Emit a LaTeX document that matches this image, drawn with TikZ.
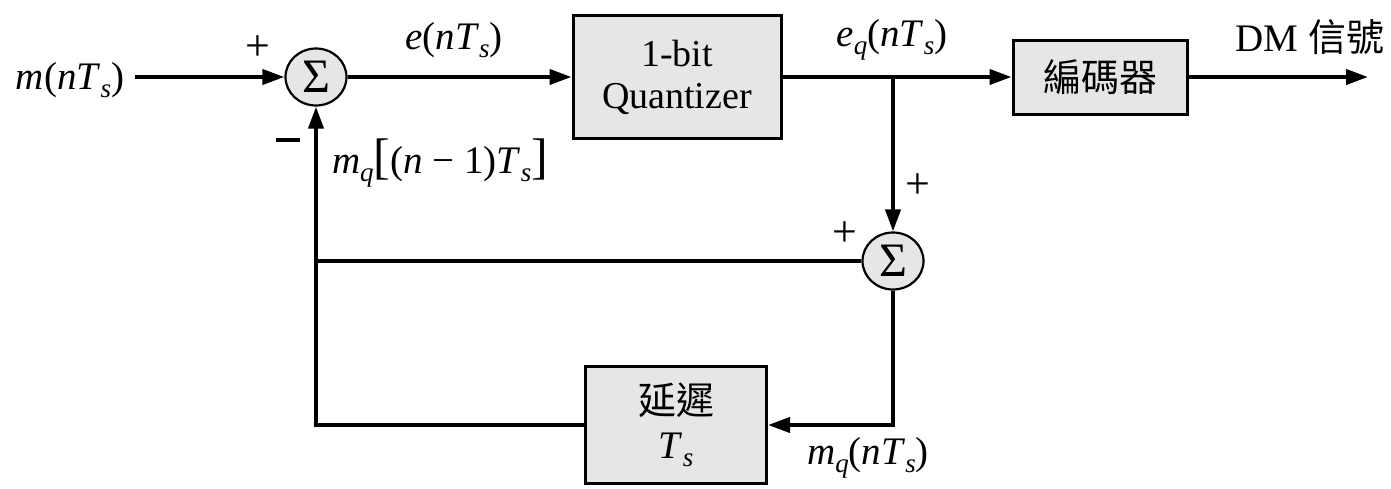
\documentclass[tikz,border=0pt]{standalone}
\usepackage{fontspec}
\setmainfont{Liberation Serif}
\newfontfamily\cjk{Noto Sans CJK TC}
\usetikzlibrary{arrows.meta,shapes.geometric}
\definecolor{boxfill}{HTML}{E6E6E8}
\newcommand\vi[1]{\textit{#1}}
\newcommand\sbs[1]{\raisebox{-8pt}{\fontsize{27}{27}\selectfont\itshape #1}}
\newcommand\bigbr[1]{{\fontsize{50}{50}\selectfont #1}}
\newcommand\cjkt[1]{{\cjk\fontsize{38}{38}\selectfont #1}}
\begin{document}
\begin{tikzpicture}[x=1pt,y=-1pt,
  font=\fontsize{39}{44}\selectfont,
  blk/.style={draw=black, line width=3pt, fill=boxfill, inner sep=0pt, align=center},
  sumnode/.style={ellipse, draw=black, line width=2.2pt, fill=boxfill, minimum width=61pt, minimum height=57pt, inner sep=0pt, font=\fontsize{48}{48}\selectfont},
  sig/.style={-{Triangle[length=22pt,width=15pt]}, line width=4pt},
  wire/.style={line width=4pt},
  sgn/.style={font=\fontsize{44}{44}\selectfont, inner sep=0pt},
  lbl/.style={inner sep=0pt}]
\useasboundingbox (0,0) rectangle (1391,488);
% blocks
\node[sumnode] (s1) at (316,77) {\raisebox{1pt}{Σ}};
\node[blk, minimum width=208pt, minimum height=123pt, font=\fontsize{38}{44}\selectfont] (q) at (677,77) {1-bit\\[-2pt]Quantizer};
\node[blk, minimum width=174pt, minimum height=74pt] (enc) at (1100,77) {\cjkt{編碼器}};
\node[sumnode] (s2) at (893,261) {\raisebox{1pt}{Σ}};
\node[blk, minimum width=181pt, minimum height=117pt] (d) at (676,425) {\cjkt{延遲}\\[0pt]\vi{T}\sbs{s}};
% free ends
\coordinate (in) at (135,77);
\coordinate (out) at (1368,77);
\coordinate (j) at (893,77);
% connectors
\draw[sig] (in) -- (s1);
\draw[sig] (s1) -- (q);
\draw[sig] (q) -- (enc);
\draw[sig] (enc) -- (out);
\draw[sig] (j) -- (s2);
\draw[wire] (s2.west) -- (s2.west -| s1);
\draw[sig] (s2.south) |- (d.east);
\draw[sig] (d.west) -| (s1.south);
% labels
\node[lbl] (lin) at (70,80) {\vi{m}(\vi{nT}\sbs{s})};
\node[lbl] (le) at (454,40) {\vi{e}(\vi{nT}\sbs{s})};
\node[lbl] (leq) at (892,40) {\vi{e}\sbs{q}(\vi{nT}\sbs{s})};
\node[lbl] (ldm) at (1310,37) {DM \cjkt{信號}};
\node[lbl] (lmq1) at (440,163) {\vi{m}\sbs{q}\bigbr{[}(\vi{n} − 1)\vi{T}\sbs{s}\bigbr{]}};
\node[lbl] (lmq) at (868,458) {\vi{m}\sbs{q}(\vi{nT}\sbs{s})};
\node[sgn] (p1) at (258,48) {+};
\node[lbl] (m1) at (288,140) {\rule{24pt}{3.5pt}};
\node[sgn] (p2) at (918,186) {+};
\node[sgn] (p3) at (845,234) {+};
\end{tikzpicture}
\end{document}
